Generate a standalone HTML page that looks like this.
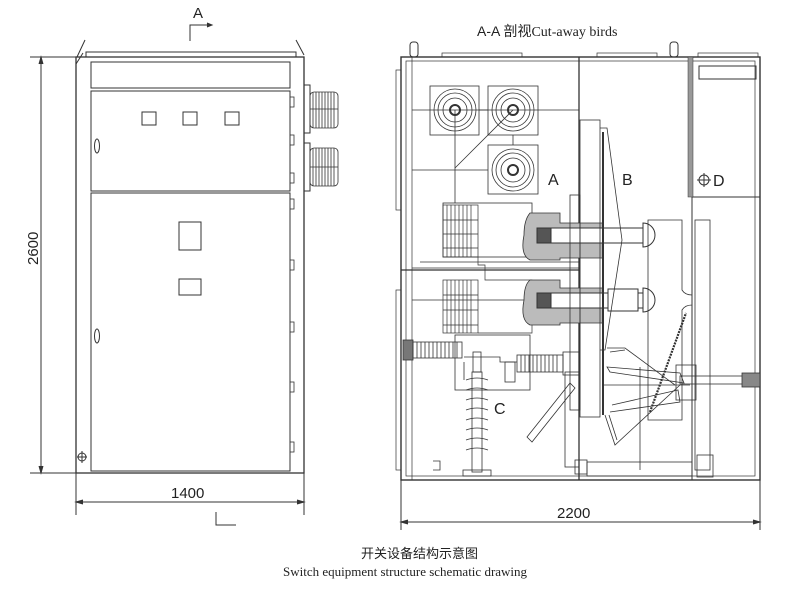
<!DOCTYPE html>
<html><head><meta charset="utf-8"><style>
html,body{margin:0;padding:0;background:#fff}
svg{display:block}
text{font-family:"Liberation Sans","Noto Sans CJK SC",sans-serif;fill:#222}
</style></head><body>
<svg width="802" height="590" viewBox="0 0 802 590" xmlns="http://www.w3.org/2000/svg" fill="none" stroke="#333" stroke-width="1">
<!-- LEFT FRONT VIEW -->
<text x="193" y="18" font-size="15" stroke="none">A</text>
<polyline points="190,41 190,25 211,25"/><path d="M207,23 L212,25 L207,27" fill="#333"/>
<line x1="83" y1="53" x2="76" y2="64" /><line x1="296" y1="40" x2="304" y2="55"/>
<line x1="85" y1="40" x2="77" y2="57"/>
<rect x="86" y="52" width="210" height="5"/>
<rect x="76" y="57" width="228" height="416" stroke-width="1.3"/>
<rect x="91" y="62" width="199" height="26"/>
<rect x="91" y="91" width="199" height="100"/>
<rect x="91" y="193" width="199" height="278"/>
<rect x="142" y="112" width="14" height="13"/><rect x="183" y="112" width="14" height="13"/><rect x="225" y="112" width="14" height="13"/>
<rect x="179" y="222" width="22" height="28"/><rect x="179" y="279" width="22" height="16"/>
<ellipse cx="97" cy="146" rx="2.5" ry="7"/><ellipse cx="97" cy="336" rx="2.5" ry="7"/>
<circle cx="82" cy="457" r="4"/><line x1="77" y1="457" x2="87" y2="457"/><line x1="82" y1="451" x2="82" y2="463"/>
<g stroke-width="0.8">
<rect x="290" y="97" width="4" height="10"/><rect x="290" y="135" width="4" height="10"/><rect x="290" y="173" width="4" height="10"/><rect x="290" y="199" width="4" height="10"/><rect x="290" y="260" width="4" height="10"/><rect x="290" y="322" width="4" height="10"/><rect x="290" y="382" width="4" height="10"/><rect x="290" y="442" width="4" height="10"/>
</g>
<!-- bushings -->
<rect x="304" y="85" width="6" height="48"/><rect x="304" y="143" width="6" height="48"/>
<g stroke-width="0.8">
<rect x="310" y="92" width="28" height="36" rx="4"/><rect x="310" y="148" width="28" height="38" rx="4"/>
<path d="M313,92v36M316,92v36M319,92v36M322,92v36M325,92v36M328,92v36M331,92v36M334,92v36M313,148v38M316,148v38M319,148v38M322,148v38M325,148v38M328,148v38M331,148v38M334,148v38"/>
<line x1="310" y1="109" x2="338" y2="109"/><line x1="310" y1="167" x2="338" y2="167"/>
</g>
<!-- dims -->
<line x1="30" y1="57" x2="76" y2="57"/><line x1="30" y1="473" x2="76" y2="473"/>
<line x1="41" y1="57" x2="41" y2="473"/>
<path d="M39,64 L41,57 L43,64 M39,466 L41,473 L43,466" fill="#333"/>
<text x="0" y="0" font-size="15" stroke="none" transform="translate(38,265) rotate(-90)">2600</text>
<line x1="76" y1="473" x2="76" y2="515"/><line x1="304" y1="473" x2="304" y2="515"/>
<line x1="76" y1="502" x2="304" y2="502"/>
<path d="M83,500 L76,502 L83,504 M297,500 L304,502 L297,504" fill="#333"/>
<text x="171" y="498" font-size="15" stroke="none">1400</text>
<polyline points="216,512 216,525 236,525"/>
<!-- RIGHT SECTION VIEW -->
<text x="477" y="36" font-size="14" stroke="none">A-A 剖视<tspan font-family="Liberation Serif">Cut-away birds</tspan></text>
<rect x="401" y="57" width="359" height="423" stroke-width="1.4"/>
<rect x="406" y="61" width="349" height="415" stroke-width="0.7"/>
<line x1="412" y1="57" x2="412" y2="480" stroke-width="0.7"/>
<rect x="396" y="70" width="5" height="140" stroke-width="0.7"/><rect x="396" y="290" width="5" height="180" stroke-width="0.7"/>
<rect x="410" y="42" width="8" height="15" rx="3"/><rect x="670" y="42" width="8" height="15" rx="3"/>
<rect x="442" y="53" width="80" height="4" stroke-width="0.7"/><rect x="597" y="53" width="60" height="4" stroke-width="0.7"/><rect x="698" y="53" width="60" height="4" stroke-width="0.7"/>
<line x1="579" y1="57" x2="579" y2="480" stroke-width="1.3"/>
<line x1="401" y1="270" x2="579" y2="270" stroke-width="1.3"/>
<line x1="412" y1="268" x2="580" y2="268" stroke-width="0.7"/>
<rect x="692" y="57" width="68" height="140"/><rect x="688" y="57" width="5" height="140" fill="#999" stroke-width="0.5"/>
<rect x="699" y="66" width="57" height="13"/>
<text x="713" y="186" font-size="16" stroke="none">D</text>
<circle cx="704" cy="180" r="5"/><line x1="697" y1="180" x2="711" y2="180"/><line x1="704" y1="173" x2="704" y2="187"/>
<!-- busbar bushings -->
<g stroke-width="0.8">
<rect x="430" y="86" width="49" height="49"/><rect x="488" y="86" width="50" height="49"/><rect x="488" y="145" width="50" height="49"/>
<circle cx="455" cy="110" r="21"/><circle cx="455" cy="110" r="17"/><circle cx="455" cy="110" r="12"/><circle cx="455" cy="110" r="5" stroke-width="2"/>
<circle cx="513" cy="110" r="21"/><circle cx="513" cy="110" r="17"/><circle cx="513" cy="110" r="12"/><circle cx="513" cy="110" r="5" stroke-width="2"/>
<circle cx="513" cy="170" r="21"/><circle cx="513" cy="170" r="17"/><circle cx="513" cy="170" r="12"/><circle cx="513" cy="170" r="5" stroke-width="2"/>
<line x1="412" y1="110" x2="579" y2="110"/><line x1="412" y1="170" x2="488" y2="170"/>
<line x1="455" y1="110" x2="455" y2="203"/><line x1="455" y1="168" x2="513" y2="110"/>
<line x1="479" y1="110" x2="488" y2="110"/><line x1="513" y1="135" x2="513" y2="145"/>
</g>
<text x="548" y="185" font-size="16" stroke="none">A</text>
<text x="622" y="185" font-size="16" stroke="none">B</text>
<!-- CTs -->
<rect x="443" y="203" width="89" height="54" stroke-width="0.8"/>
<g stroke-width="0.7"><rect x="443" y="205" width="35" height="52"/>
<path d="M447,205v52M451,205v52M455,205v52M459,205v52M463,205v52M467,205v52M471,205v52M443,220h35M443,234h35M443,248h35"/>
<rect x="443" y="280" width="35" height="53"/>
<path d="M447,280v53M451,280v53M455,280v53M459,280v53M463,280v53M467,280v53M471,280v53M443,295h35M443,310h35M443,325h35"/>
<path d="M478,257 V265 H485 V280 H532 V333 H478"/>
<line x1="420" y1="262" x2="580" y2="262"/><line x1="412" y1="300" x2="580" y2="300"/>
</g>
<!-- contact spouts -->
<path d="M530,213 h30 v10 h43 v35 h-43 v2 h-30 q-10,-5 -6,-25 q0,-15 6,-22z" fill="#bbb" stroke-width="0.8"/>
<rect x="537" y="228" width="106" height="15" fill="#fff"/>
<rect x="537" y="228" width="14" height="15" fill="#555"/>
<path d="M643,223 a12,12 0 0 1 0,24 z" fill="#fff"/>
<path d="M530,280 h30 v8 h43 v35 h-43 v2 h-30 q-10,-5 -6,-25 q0,-15 6,-20z" fill="#bbb" stroke-width="0.8"/>
<rect x="537" y="293" width="106" height="15" fill="#fff"/>
<rect x="537" y="293" width="14" height="15" fill="#555"/>
<rect x="608" y="289" width="30" height="22" fill="#fff"/>
<path d="M643,288 a12,12 0 0 1 0,24 z" fill="#fff"/>
<!-- partition plates -->
<rect x="570" y="195" width="10" height="215" stroke-width="0.8"/>
<rect x="580" y="120" width="20" height="297" stroke-width="0.8"/>
<path d="M600,128 L607,128 L622,240 L605,350 L600,350" stroke-width="0.8"/>
<line x1="603" y1="132" x2="603" y2="415" stroke-width="2"/>
<path d="M648,220 H682 V290 Q685,295 692,295 V305 Q685,305 682,310 V420 H648 Z" stroke-width="0.8"/>
<rect x="695" y="220" width="15" height="250" stroke-width="0.8"/>
<line x1="692" y1="197" x2="692" y2="480"/>
<!-- mechanism -->
<g stroke-width="0.8">
<path d="M607,348 L625,348 L675,385 M610,352 L625,350"/>
<path d="M607,367 L680,373 L684,383 L610,372 Z"/>
<path d="M610,412 L680,402 L678,390 L612,405"/>
<path d="M605,415 L615,445 L680,385 M609,415 L617,440"/>
<line x1="650" y1="412" x2="686" y2="313" stroke-width="2.2" stroke-dasharray="2,1"/>
<rect x="680" y="376" width="80" height="8"/><rect x="742" y="373" width="18" height="14" fill="#888"/>
<rect x="676" y="365" width="20" height="35"/>
<line x1="640" y1="367" x2="640" y2="470"/>
<line x1="602" y1="385" x2="690" y2="385"/>
</g>
<!-- lower compartment -->
<g stroke-width="0.8">
<rect x="403" y="340" width="10" height="20" fill="#777"/>
<rect x="413" y="342" width="49" height="16"/>
<path d="M417,342v16M421,342v16M425,342v16M429,342v16M433,342v16M437,342v16M441,342v16M445,342v16M449,342v16M453,342v16M457,342v16"/>
<rect x="517" y="355" width="46" height="17"/>
<path d="M521,355v17M525,355v17M529,355v17M533,355v17M537,355v17M541,355v17M545,355v17M549,355v17M553,355v17M557,355v17"/>
<rect x="563" y="352" width="16" height="23"/>
<rect x="455" y="335" width="75" height="55"/>
<path d="M464,357 H500 V362 H517 M464,362 V380"/>
<rect x="505" y="362" width="10" height="20"/>
<rect x="473" y="352" width="8" height="20"/>
<path d="M466,380 Q477,376 488,380 M466,390 Q477,386 488,390 M466,400 Q477,396 488,400 M466,410 Q477,406 488,410 M466,420 Q477,416 488,420 M466,430 Q477,426 488,430 M466,440 Q477,436 488,440 M466,450 Q477,446 488,450"/>
<rect x="472" y="372" width="10" height="100"/>
<rect x="463" y="470" width="28" height="6"/>
<path d="M527,437 L570,383 L575,388 L532,442 Z"/>
<rect x="565" y="372" width="14" height="95"/>
<polyline points="433,461 440,461 440,470 433,470"/>
<rect x="587" y="462" width="105" height="14"/>
<rect x="697" y="455" width="16" height="22"/>
<rect x="575" y="460" width="12" height="14"/>
</g>
<text x="494" y="414" font-size="16" stroke="none">C</text>
<!-- dimension 2200 -->
<line x1="401" y1="480" x2="401" y2="530"/><line x1="760" y1="480" x2="760" y2="530"/>
<line x1="401" y1="522" x2="760" y2="522"/>
<path d="M408,520 L401,522 L408,524 M753,520 L760,522 L753,524" fill="#333"/>
<text x="557" y="518" font-size="15" stroke="none">2200</text>
<!-- captions -->
<text x="361" y="558" font-size="13" stroke="none">开关设备结构示意图</text>
<text x="283" y="576" font-size="13" stroke="none" style="font-family:'Liberation Serif',serif">Switch equipment structure schematic drawing</text>
</svg>
</body></html>
